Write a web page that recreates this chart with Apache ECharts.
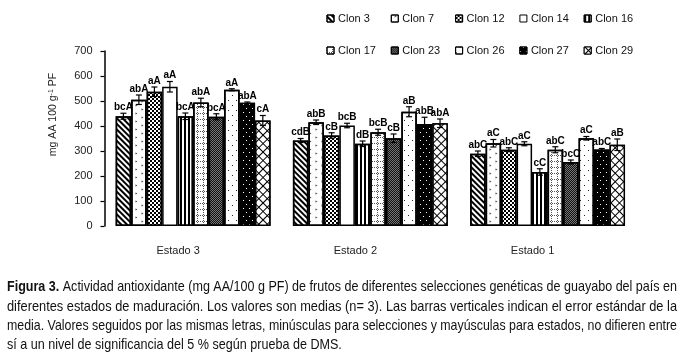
<!DOCTYPE html>
<html>
<head>
<meta charset="utf-8">
<script src="https://cdn.jsdelivr.net/npm/echarts@6/dist/echarts.min.js"></script>
<style>
html,body{margin:0;padding:0;background:#fff;}
#chart{width:682px;height:363px;}
</style>
</head>
<body>
<div id="chart"></div>
<script>
// ---- data ----
var categories = ['Estado 3', 'Estado 2', 'Estado 1'];
var clones = ['Clon 3', 'Clon 7', 'Clon 12', 'Clon 14', 'Clon 16', 'Clon 17', 'Clon 23', 'Clon 26', 'Clon 27', 'Clon 29'];
var estado3Values = [439, 505, 537, 557, 439, 494, 437, 545, 493, 422];
var estado2Values = [342, 415, 362, 402, 329, 375, 351, 457, 408, 411];
var estado1Values = [289, 331, 305, 329, 216, 305, 256, 351, 306, 325];
var estado3Errors = [12, 19, 19, 21, 13, 17, 12, 4, 3, 20];
var estado2Errors = [8, 9, 11, 9, 11, 12, 17, 20, 27, 17];
var estado1Errors = [11, 15, 8, 8, 13, 12, 8, 7, 4, 23];
var estado3Letters = ['bcA', 'abA', 'aA', 'aA', 'bcA', 'abA', 'bcA', 'aA', 'abA', 'cA'];
var estado2Letters = ['cdB', 'abB', 'cB', 'bcB', 'dB', 'bcB', 'cB', 'aB', 'abB', 'abA'];
var estado1Letters = ['abC', 'aC', 'abC', 'aC', 'cC', 'abC', 'bcC', 'aC', 'abC', 'aB'];
var yTicks = [0, 100, 200, 300, 400, 500, 600, 700];
var yAxisTitle = 'mg AA 100 g';
var captionLead = 'Figura 3.';
var captionLines = [
  'Actividad antioxidante (mg AA/100 g PF) de frutos de diferentes selecciones genéticas de guayabo del país en',
  'diferentes estados de maduración. Los valores son medias (n= 3). Las barras verticales indican el error estándar de la',
  'media. Valores seguidos por las mismas letras, minúsculas para selecciones y mayúsculas para estados, no difieren entre',
  'sí a un nivel de significancia del 5 % según prueba de DMS.'
];

// ---- styling ----
var FONT = '"Liberation Sans", Arial, sans-serif';
var CAP_SIZE = 14.5;
var GAP = 0.126;
var styles = [
  {color: '#fff', decal: {symbol: 'rect', symbolSize: 1, color: '#000', dashArrayX: [[1, 0]], dashArrayY: [2, 2], rotation: Math.PI / 4}},
  {color: '#fff', decal: {symbol: 'triangle', symbolSize: 0.7, color: '#444', dashArrayX: [[3, 5], [0, 4, 3, 1]], dashArrayY: [3, 3], rotation: Math.PI / 2}},
  {color: '#fff', decal: {symbol: 'rect', symbolSize: 1, color: '#000', dashArrayX: [[2, 2], [0, 2, 2, 0]], dashArrayY: [2, 0]}},
  {color: '#fff', decal: null},
  {color: '#fff', decal: {symbol: 'rect', symbolSize: 1, color: '#000', dashArrayX: [[2, 2]], dashArrayY: [1, 0]}},
  {color: '#fff', decal: {symbol: 'rect', symbolSize: 1, color: '#555', dashArrayX: [[1, 1], [0, 5, 1, 0], [0, 6], [0, 5, 1, 0], [0, 6], [0, 5, 1, 0]], dashArrayY: [1, 0]}},
  {color: '#777', decal: {symbol: 'rect', symbolSize: 1, color: '#111', dashArrayX: [[1, 1], [0, 1, 1, 0]], dashArrayY: [1, 0]}},
  {color: '#fff', decal: {symbol: 'rect', symbolSize: 1, color: '#222', dashArrayX: [[1, 7], [0, 4, 1, 3]], dashArrayY: [1, 4]}},
  {color: '#000', decal: {symbol: 'rect', symbolSize: 1, color: '#fff', dashArrayX: [[1, 5], [0, 3, 1, 2]], dashArrayY: [1, 3]}},
  {color: '#000', decal: {symbol: 'rect', symbolSize: 1, color: '#fff', dashArrayX: [[5, 1]], dashArrayY: [5, 1], rotation: Math.PI / 4}}
];

var stageValues = [estado3Values, estado2Values, estado1Values];
var stageErrors = [estado3Errors, estado2Errors, estado1Errors];
var stageLetters = [estado3Letters, estado2Letters, estado1Letters];

var series = clones.map(function (name, i) {
  var it = {color: styles[i].color, borderColor: '#000', borderWidth: 1.5};
  if (styles[i].decal) it.decal = styles[i].decal;
  return {
    name: name, type: 'bar', barGap: '0%', barCategoryGap: (GAP * 100) + '%',
    itemStyle: it,
    data: stageValues.map(function (arr) { return arr[i]; })
  };
});

var errData = [];
var errLetters = [];
for (var s = 0; s < 3; s++) {
  for (var i = 0; i < clones.length; i++) {
    errData.push([s, stageValues[s][i], stageErrors[s][i], i]);
    errLetters.push(stageLetters[s][i]);
  }
}

series.push({
  type: 'custom', name: 'err', z: 10, silent: true,
  encode: {x: 0, y: 1},
  data: errData,
  renderItem: function (params, api) {
    var cat = api.value(0), val = api.value(1), err = api.value(2), si = api.value(3);
    var band = api.size([1, 0])[0];
    var total = band * (1 - GAP);
    var bw = total / clones.length;
    var cx = api.coord([cat, 0])[0] - total / 2 + bw * (si + 0.5);
    var yTop = api.coord([cat, val + err])[1];
    var yBot = api.coord([cat, val - err])[1];
    var cap = 3;
    var ls = {stroke: '#000', lineWidth: 1.2};
    return {
      type: 'group',
      children: [
        {type: 'line', shape: {x1: cx, y1: yTop, x2: cx, y2: yBot}, style: ls},
        {type: 'line', shape: {x1: cx - cap, y1: yTop, x2: cx + cap, y2: yTop}, style: ls},
        {type: 'line', shape: {x1: cx - cap, y1: yBot, x2: cx + cap, y2: yBot}, style: ls},
        {type: 'text', style: {text: errLetters[params.dataIndex], x: cx, y: yTop - 1, align: 'center', verticalAlign: 'bottom',
          font: 'bold 10px ' + FONT, fill: '#000'}}
      ]
    };
  }
});

var legendX0 = 326.5, legendDX = 64.3, legendRows = [13, 45];
var legends = clones.map(function (c, i) {
  return {
    data: [c], left: legendX0 + (i % 5) * legendDX, top: legendRows[Math.floor(i / 5)],
    padding: 0, itemWidth: 7, itemHeight: 7, icon: 'rect', selectedMode: false,
    textStyle: {fontFamily: FONT, fontSize: 11, color: '#111', padding: [0, 0, 0, -1]},
    itemStyle: {borderColor: '#000', borderWidth: 1}
  };
});

// caption: compress each line horizontally to the justified width of the reference
var measureCtx = document.createElement('canvas').getContext('2d');
function textWidth(font, t) { measureCtx.font = font; return measureCtx.measureText(t).width; }
var capLeft = 7, capWidth = 670, capY = [287, 306.5, 326, 345];
var capScales = captionLines.map(function (line, k) {
  var wdt = textWidth(CAP_SIZE + 'px ' + FONT, (k === 0 ? ' ' : '') + line);
  if (k === 0) wdt += textWidth('bold ' + CAP_SIZE + 'px ' + FONT, captionLead);
  return capWidth / wdt;
});
var avgScale = (capScales[0] + capScales[1] + capScales[2]) / 3;
var captionGraphics = captionLines.map(function (line, k) {
  var txt = k === 0 ? '{b|' + captionLead + '} ' + line : line;
  return {type: 'text', x: capLeft, y: capY[k], scaleX: k < 3 ? capScales[k] : avgScale,
    style: {text: txt, x: 0, y: 0, align: 'left', verticalAlign: 'middle', font: CAP_SIZE + 'px ' + FONT, fill: '#111',
      rich: {b: {fontWeight: 'bold', fontSize: CAP_SIZE, fontFamily: FONT, fill: '#111'}}}};
});

var chart = echarts.init(document.getElementById('chart'), null, {renderer: 'canvas'});
chart.setOption({
  animation: false,
  backgroundColor: '#fff',
  grid: {left: 104.5, right: 45.8, top: 51, bottom: 137, containLabel: false},
  legend: legends,
  xAxis: {
    type: 'category', data: categories,
    axisLine: {show: false}, axisTick: {show: false}, splitLine: {show: false},
    axisLabel: {fontFamily: FONT, fontSize: 11, color: '#222', margin: 19, padding: [0, 30, 0, 0]}
  },
  yAxis: {
    type: 'value', min: yTicks[0], max: yTicks[yTicks.length - 1], interval: yTicks[1] - yTicks[0],
    axisLine: {show: true, lineStyle: {color: '#000', width: 1.5}},
    axisTick: {show: true, inside: false, length: 4, lineStyle: {color: '#000', width: 1.2}},
    splitLine: {show: false},
    axisLabel: {fontFamily: FONT, fontSize: 11, color: '#222', margin: 12}
  },
  graphic: [
    {type: 'text', x: 53.5, y: 114.5, rotation: Math.PI / 2,
      style: {text: yAxisTitle + '{sup|-1} PF', align: 'center', verticalAlign: 'middle',
        font: '10.5px ' + FONT, fill: '#222', rich: {sup: {fontSize: 7, verticalAlign: 'top', padding: [0, 0, 5, 0], fill: '#222', fontFamily: FONT}}}}
  ].concat(captionGraphics),
  series: series
});
</script>
</body>
</html>
